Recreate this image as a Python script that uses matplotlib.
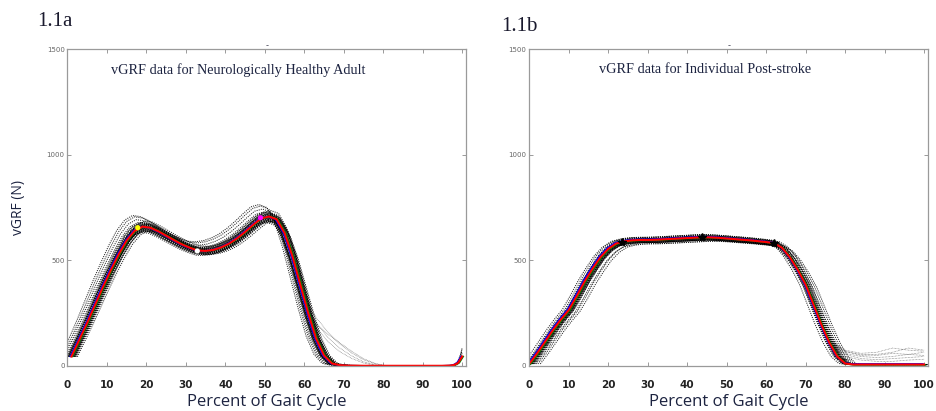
#!/usr/bin/env python3
"""
vGRF over the gait cycle: healthy adult (1.1a) vs individual post-stroke (1.1b).
Dotted black = single trials, coloured = averaged curves, dots/stars = events.
"""

import matplotlib
matplotlib.use('Agg')
import matplotlib.pyplot as plt
import numpy as np

# ---- healthy adult, mean curve ----
healthy_x = [1, 3, 5, 7, 9, 11, 13, 15, 17, 19, 21, 23, 25, 27, 29, 31, 33, 35,
             37, 39, 41, 43, 45, 47, 49, 51, 53, 55, 57, 59, 61, 63, 65, 67, 69,
             71, 75, 80, 85, 90, 95, 97, 98, 99, 100]
healthy_y = [45, 125, 205, 290, 375, 455, 530, 595, 640, 660, 655, 638, 617, 596,
             576, 560, 547, 545, 550, 562, 580, 605, 635, 668, 698, 708, 695, 630,
             520, 385, 250, 130, 50, 12, 4, 2, 1, 1, 1, 1, 1, 2, 5, 15, 45]

# per-trial timing offset (% cycle) and amplitude ratio (stance phase, x <= 95)
healthy_trial_shift = [-1.2, -1.0, -0.9, -0.8, -0.7, -0.6, -0.5, -0.4, -0.3, -0.2,
                       -0.1, 0.0, 0.1, 0.2, 0.3, 0.4, 0.5, 0.6, 0.7, 0.8, 0.9,
                       1.0, 1.2, -0.5, 0.5, -0.2, 0.2, 0.0, -0.8, 0.8,
                       -1.6, -2.0, -2.5, 1.5]
healthy_trial_scale = [1.03, 1.02, 0.98, 1.01, 0.99, 1.03, 0.97, 1.01, 0.99, 1.02,
                       0.98, 1.03, 0.97, 1.02, 0.98, 1.01, 0.99, 1.02, 0.97, 1.00,
                       1.01, 0.98, 0.99, 0.96, 1.04, 1.00, 1.00, 0.97, 1.00, 1.00,
                       1.05, 1.07, 1.08, 0.97]

# slow off-loading trials
healthy_tail_x = [60, 63, 66, 69, 72, 75, 78, 81]
healthy_tails = [
    [330, 230, 160, 105, 62, 30, 10, 0],
    [310, 205, 135, 85, 48, 20, 5, 0],
    [290, 185, 115, 68, 36, 14, 3, 0],
    [300, 200, 150, 110, 70, 35, 12, 0],
]
# next heel strike at the end of the cycle
healthy_end_x = [95, 98, 99, 99.5, 100]
healthy_ends = [
    [0, 2, 15, 40, 85],
    [0, 3, 20, 45, 70],
    [0, 1, 10, 30, 60],
    [0, 4, 25, 50, 80],
    [0, 1, 8, 25, 50],
]
healthy_events_x = [17.8, 32.9, 48.9]
healthy_events_y = [655, 545, 702]
healthy_event_colors = ['yellow', 'white', 'magenta']

# ---- post-stroke, mean curve ----
stroke_x = [0, 2, 4, 6, 8, 10, 12, 14, 16, 18, 20, 22, 24, 26, 28, 30, 32, 34,
            36, 38, 40, 42, 44, 46, 48, 50, 52, 54, 56, 58, 60, 62, 64, 66, 68,
            70, 72, 74, 76, 78, 80, 82, 86, 90, 95, 100]
stroke_y = [10, 60, 115, 170, 220, 265, 330, 400, 460, 515, 555, 580, 590, 595,
            597, 597, 598, 600, 602, 604, 606, 608, 610, 609, 607, 604, 601, 598,
            595, 591, 587, 582, 560, 515, 455, 385, 290, 195, 110, 45, 12, 7, 7,
            7, 7, 7]

stroke_trial_shift = [-0.9, -0.7, -0.5, -0.4, -0.3, -0.2, -0.1, 0.0, 0.1, 0.2,
                      0.3, 0.4, 0.5, 0.6, 0.7, 0.8, 1.0, 1.2, 1.4, 0.3, 0.5,
                      -0.3, 0.9, 1.7, 2.2, 2.8, -1.6]
stroke_trial_scale = [1.02, 0.99, 1.01, 0.98, 1.02, 1.00, 0.99, 1.01, 0.98, 1.02,
                      0.99, 1.00, 0.98, 0.99, 0.98, 1.01, 1.00, 0.99, 1.01, 1.00,
                      0.98, 0.99, 0.98, 0.97, 0.98, 0.97, 1.01]

stroke_tail_x = [76, 80, 84, 88, 92, 96, 100]
stroke_tails = [
    [125, 75, 60, 65, 85, 75, 70],
    [120, 70, 50, 55, 65, 85, 75],
    [115, 60, 45, 40, 45, 55, 65],
    [110, 55, 35, 30, 35, 40, 45],
    [105, 45, 28, 22, 22, 28, 32],
    [118, 68, 55, 50, 60, 55, 50],
]
stroke_events_x = [23.6, 43.7, 62.0]
stroke_events_y = [588, 610, 582]

x_ticks = [0, 10, 20, 30, 40, 50, 60, 70, 80, 90, 100]
y_ticks = [0, 500, 1000, 1500]

NAVY = '#1c2340'
GRID = '#9a9a9a'
DOT = (0, (1, 1.1))


def style_axes(ax, title, title_x):
    ax.set_xlim(0, 101)
    ax.set_ylim(0, 1500)
    ax.set_xticks(x_ticks)
    ax.set_yticks(y_ticks)
    ax.set_xticklabels([str(t) for t in x_ticks], fontsize=7.5, fontweight='bold',
                       color='#222222', family='DejaVu Sans')
    ax.set_yticklabels([str(t) for t in y_ticks], fontsize=5, color='#666666')
    ax.tick_params(direction='in', length=3, width=0.7, color=GRID,
                   top=True, right=True)
    ax.tick_params(axis='x', pad=10)
    ax.tick_params(axis='y', pad=2)
    for sp in ax.spines.values():
        sp.set_color(GRID)
        sp.set_linewidth(0.9)
    ax.set_xlabel('Percent of Gait Cycle', fontsize=12, family='Open Sans',
                  color=NAVY, labelpad=3)
    ax.set_title('-', fontsize=6, color='#445', pad=1)
    ax.text(title_x, 0.935, title, transform=ax.transAxes, ha='center', va='center',
            fontsize=10.3, family='Liberation Serif', color=NAVY)


def draw_trials(ax, x, y, shifts, scales, x_max=101):
    x = np.asarray(x, float)
    y = np.asarray(y, float)
    keep = x <= x_max
    for dx, s in zip(shifts, scales):
        ax.plot(x[keep] + dx, y[keep] * s, color='black', lw=0.75, ls=DOT, alpha=0.85)


fig = plt.figure(figsize=(9.36, 4.11), dpi=100)
ax1 = fig.add_axes([0.0721, 0.1095, 0.4258, 0.7706])
ax2 = fig.add_axes([0.5654, 0.1095, 0.4261, 0.7706])

# 1.1a healthy
draw_trials(ax1, healthy_x, healthy_y, healthy_trial_shift, healthy_trial_scale, 95)
for ty in healthy_tails:
    ax1.plot(healthy_tail_x, ty, color='black', lw=0.5, ls=DOT, alpha=0.55)
for ty in healthy_ends:
    ax1.plot(healthy_end_x, ty, color='black', lw=0.7, ls=DOT, alpha=0.85)
hx = np.asarray(healthy_x, float)
hy = np.asarray(healthy_y, float)
ax1.plot(hx + 0.3, hy, color='green', lw=1.1)
ax1.plot(hx - 0.3, hy, color='blue', lw=1.1)
ax1.plot(hx, hy, color='red', lw=1.5)
ax1.scatter(healthy_events_x, healthy_events_y, s=14, c=healthy_event_colors,
            edgecolors='none', zorder=5)
style_axes(ax1, 'vGRF data for Neurologically Healthy Adult', 0.429)
ax1.set_ylabel('vGRF (N)', fontsize=10, family='Open Sans', color=NAVY, labelpad=15)

# 1.1b post-stroke
draw_trials(ax2, stroke_x, stroke_y, stroke_trial_shift, stroke_trial_scale)
for ty in stroke_tails:
    ax2.plot(stroke_tail_x, ty, color='black', lw=0.5, ls=DOT, alpha=0.55)
sx = np.asarray(stroke_x, float)
sy = np.asarray(stroke_y, float)
ax2.plot(sx + 0.3, sy - 2, color='green', lw=1.1)
ax2.plot(sx - 0.3, sy + 3, color='blue', lw=1.1)
ax2.plot(sx, sy, color='red', lw=1.5)
ax2.plot(stroke_events_x, stroke_events_y, ls='none', marker='*', ms=6,
         color='black', zorder=5)
style_axes(ax2, 'vGRF data for Individual Post-stroke', 0.442)

fig.text(37 / 936, 1 - 26 / 411, '1.1a', fontsize=15, family='Liberation Serif',
         color='#1a1a2e', va='baseline')
fig.text(501 / 936, 1 - 31 / 411, '1.1b', fontsize=15, family='Liberation Serif',
         color='#1a1a2e', va='baseline')

fig.savefig('out.png', dpi=100)
